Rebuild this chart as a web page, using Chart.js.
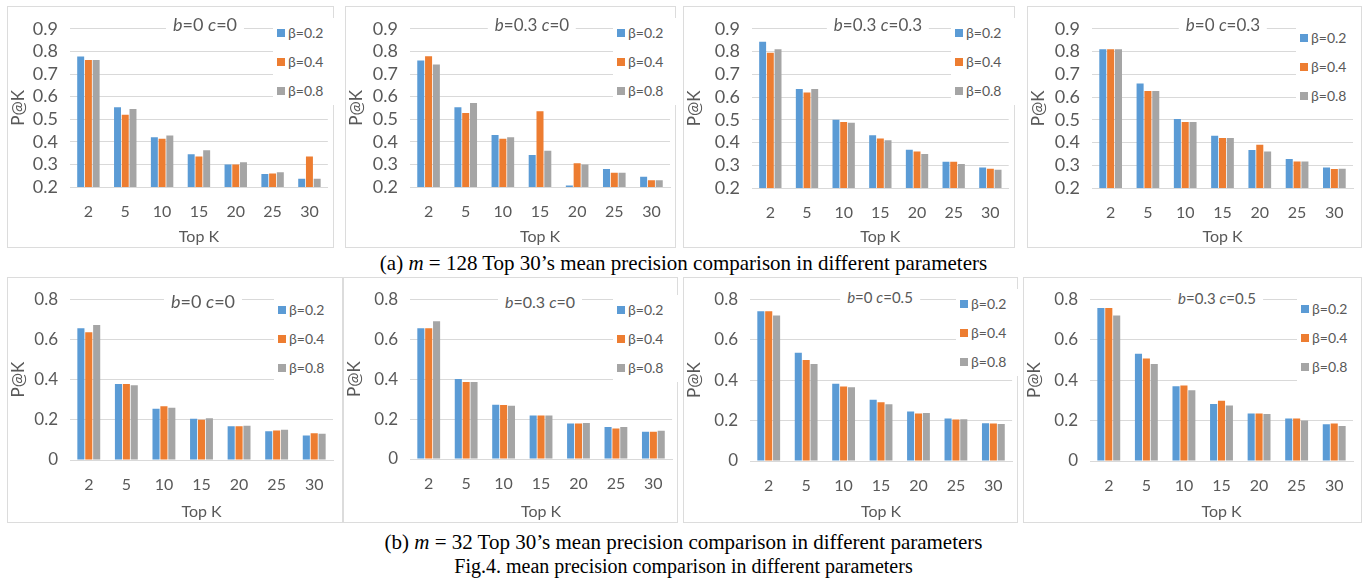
<!DOCTYPE html>
<html>
<head>
<meta charset="utf-8">
<script src="https://cdn.jsdelivr.net/npm/chart.js@4.4.1/dist/chart.umd.min.js"></script>
<style>
body { margin:0; width:1367px; height:581px; background:#fff; position:relative; overflow:hidden; font-family:Lato, sans-serif; }
.box { position:absolute; border:1px solid #dcdcdc; box-sizing:border-box; }
canvas { position:absolute; }
.ttl { position:absolute; transform:translate(-50%,-50%); background:#fff; color:#595959; padding:1px 7px; white-space:nowrap; line-height:1.1; }
.leg { position:absolute; background:#fff; color:#595959; font-size:14px; padding-left:4px; }
.leg div { height:29px; display:flex; align-items:center; white-space:nowrap; }
.leg .sw { width:8px; height:8px; margin-right:3px; display:inline-block; }
.cap { position:absolute; left:0; width:1367px; text-align:center; font-family:"Liberation Serif","Times New Roman",serif; font-size:21px; color:#000; line-height:1; }
</style>
</head>
<body>
<div class="cap" style="top:253px">(a) <i>m</i> = 128 Top 30’s mean precision comparison in different parameters</div>
<div class="cap" style="top:532px">(b) <i>m</i> = 32 Top 30’s mean precision comparison in different parameters</div>
<div class="cap" style="top:556px;font-size:20px">Fig.4. mean precision comparison in different parameters</div>
<script>
// ===============================
// DONNEES
// ===============================

const topK = ['2', '5', '10', '15', '20', '25', '30'];
const betaLabels = ['β=0.2', 'β=0.4', 'β=0.8'];
const betaColors = ['#5b9bd5', '#ed7d31', '#a5a5a5'];

const yTicksA = ['0.2', '0.3', '0.4', '0.5', '0.6', '0.7', '0.8', '0.9'];
const yTicksB = ['0', '0.2', '0.4', '0.6', '0.8'];

// (a) m = 128   -> [β=0.2, β=0.4, β=0.8]
const m128_b0_c0 = [
    [0.777, 0.553, 0.420, 0.345, 0.300, 0.258, 0.237],
    [0.762, 0.520, 0.413, 0.335, 0.300, 0.260, 0.335],
    [0.762, 0.545, 0.428, 0.363, 0.310, 0.265, 0.237]
];
const m128_b03_c0 = [
    [0.760, 0.553, 0.430, 0.342, 0.207, 0.280, 0.245],
    [0.778, 0.527, 0.413, 0.535, 0.305, 0.263, 0.230],
    [0.742, 0.572, 0.420, 0.360, 0.300, 0.263, 0.230]
];
const m128_b03_c03 = [
    [0.843, 0.635, 0.500, 0.432, 0.368, 0.315, 0.290],
    [0.795, 0.620, 0.490, 0.418, 0.360, 0.315, 0.285],
    [0.810, 0.635, 0.487, 0.410, 0.350, 0.305, 0.280]
];
const m128_b0_c03 = [
    [0.810, 0.660, 0.503, 0.430, 0.367, 0.328, 0.290],
    [0.810, 0.627, 0.490, 0.420, 0.390, 0.317, 0.283],
    [0.810, 0.627, 0.490, 0.420, 0.360, 0.317, 0.285]
];

// (b) m = 32
const m32_b0_c0 = [
    [0.655, 0.378, 0.255, 0.205, 0.168, 0.143, 0.122],
    [0.635, 0.378, 0.268, 0.200, 0.168, 0.147, 0.133],
    [0.672, 0.372, 0.260, 0.208, 0.170, 0.150, 0.130]
];
const m32_b03_c0 = [
    [0.655, 0.400, 0.272, 0.218, 0.178, 0.160, 0.137],
    [0.655, 0.385, 0.270, 0.218, 0.178, 0.153, 0.137],
    [0.690, 0.385, 0.267, 0.218, 0.180, 0.160, 0.142]
];
const m32_b0_c05 = [
    [0.740, 0.535, 0.382, 0.303, 0.245, 0.210, 0.187],
    [0.740, 0.500, 0.368, 0.290, 0.235, 0.205, 0.185],
    [0.720, 0.480, 0.365, 0.280, 0.237, 0.207, 0.183]
];
const m32_b03_c05 = [
    [0.757, 0.530, 0.370, 0.282, 0.235, 0.210, 0.182],
    [0.757, 0.507, 0.373, 0.298, 0.235, 0.210, 0.185],
    [0.720, 0.480, 0.350, 0.275, 0.232, 0.200, 0.173]
];

const panelTitles = [
    '<i>b</i>=0 <i>c</i>=0', '<i>b</i>=0.3 <i>c</i>=0', '<i>b</i>=0.3 <i>c</i>=0.3', '<i>b</i>=0 <i>c</i>=0.3',
    '<i>b</i>=0 <i>c</i>=0', '<i>b</i>=0.3 <i>c</i>=0', '<i>b</i>=0 <i>c</i>=0.5', '<i>b</i>=0.3 <i>c</i>=0.5'
];

// ===============================
// MISE EN PAGE
// ===============================

const panels = [
    { data: m128_b0_c0,   ticks: yTicksA, tickSize: 18, box: [7, 6, 334, 248],     plot: [70, 22, 330, 187],   title: [205, 25, 18],  legend: [273, 18] },
    { data: m128_b03_c0,  ticks: yTicksA, tickSize: 18, box: [345, 6, 676, 248],   plot: [410, 22, 672, 187],  title: [532, 25, 17],  legend: [613, 18] },
    { data: m128_b03_c03, ticks: yTicksA, tickSize: 18, box: [683, 6, 1015, 248],  plot: [752, 22, 1010, 188], title: [878, 25, 17],  legend: [951, 18] },
    { data: m128_b0_c03,  ticks: yTicksA, tickSize: 18, box: [1027, 6, 1362, 248], plot: [1092, 22, 1353, 188],title: [1223, 25, 17], legend: [1296, 23] },
    { data: m32_b0_c0,    ticks: yTicksB, tickSize: 17, box: [7, 277, 343, 523],   plot: [70, 293, 333, 460],  title: [203, 302, 18], legend: [274, 295] },
    { data: m32_b03_c0,   ticks: yTicksB, tickSize: 17, box: [343, 277, 678, 523], plot: [410, 293, 673, 459], title: [540, 302, 16], legend: [613, 295] },
    { data: m32_b0_c05,   ticks: yTicksB, tickSize: 17, box: [683, 277, 1018, 523],plot: [750, 294, 1013, 461],title: [880, 297, 15], legend: [956, 289] },
    { data: m32_b03_c05,  ticks: yTicksB, tickSize: 17, box: [1023, 277, 1362, 523],plot: [1090, 294, 1353, 461],title: [1217, 298, 15], legend: [1297, 294] }
];

const txt = '#595959';
const grid = '#d9d9d9';

// ===============================
// GRAPHIQUES
// ===============================

panels.forEach((p, i) => {
    const [x1, y1, x2, y2] = p.box;
    const [pl, pt, pr, pb] = p.plot;

    const frame = document.createElement('div');
    frame.className = 'box';
    Object.assign(frame.style, { left: x1 + 'px', top: y1 + 'px', width: (x2 - x1) + 'px', height: (y2 - y1) + 'px' });
    document.body.appendChild(frame);

    const canvas = document.createElement('canvas');
    canvas.width = x2 - x1;
    canvas.height = y2 - y1;
    Object.assign(canvas.style, { left: x1 + 'px', top: y1 + 'px', width: (x2 - x1) + 'px', height: (y2 - y1) + 'px' });
    document.body.appendChild(canvas);

    const tickVals = p.ticks.map(Number);

    new Chart(canvas, {
        type: 'bar',
        data: {
            labels: topK,
            datasets: p.data.map((vals, k) => ({
                label: betaLabels[k],
                data: vals,
                backgroundColor: betaColors[k],
                categoryPercentage: 0.63,
                barPercentage: 0.9
            }))
        },
        options: {
            responsive: false,
            animation: false,
            layout: { padding: { top: pt - y1, right: x2 - pr, left: 0, bottom: 0 } },
            plugins: { legend: { display: false }, tooltip: { enabled: false } },
            scales: {
                x: {
                    grid: { display: false, drawTicks: false },
                    border: { color: grid },
                    ticks: { color: txt, font: { family: 'Lato', size: 16 }, padding: 15 },
                    title: { display: true, text: 'Top K', color: txt, font: { family: 'Lato', size: 16 }, padding: { top: 0, bottom: 2 } },
                    afterFit: s => { s.height = y2 - pb; }
                },
                y: {
                    min: tickVals[0],
                    max: tickVals[tickVals.length - 1],
                    grid: { color: grid, drawTicks: false },
                    border: { display: false },
                    afterBuildTicks: s => { s.ticks = tickVals.map(v => ({ value: v })); },
                    ticks: {
                        autoSkip: false,
                        color: txt, font: { family: 'Lato', size: p.tickSize }, padding: 12,
                        callback: (v, idx) => p.ticks[idx]
                    },
                    title: { display: true, text: 'P@K', color: txt, font: { family: 'Lato', size: 17 }, padding: { top: 1, bottom: 0 } },
                    afterFit: s => { s.width = pl - x1; }
                }
            }
        }
    });

    const t = document.createElement('div');
    t.className = 'ttl';
    t.innerHTML = panelTitles[i];
    Object.assign(t.style, { left: p.title[0] + 'px', top: p.title[1] + 'px', fontSize: p.title[2] + 'px' });
    document.body.appendChild(t);

    const leg = document.createElement('div');
    leg.className = 'leg';
    Object.assign(leg.style, { left: p.legend[0] + 'px', top: p.legend[1] + 'px', width: (pr - p.legend[0] + 1) + 'px' });
    betaLabels.forEach((lab, k) => {
        const row = document.createElement('div');
        row.innerHTML = '<span class="sw" style="background:' + betaColors[k] + '"></span>' + lab;
        leg.appendChild(row);
    });
    document.body.appendChild(leg);
});
</script>
</body>
</html>
